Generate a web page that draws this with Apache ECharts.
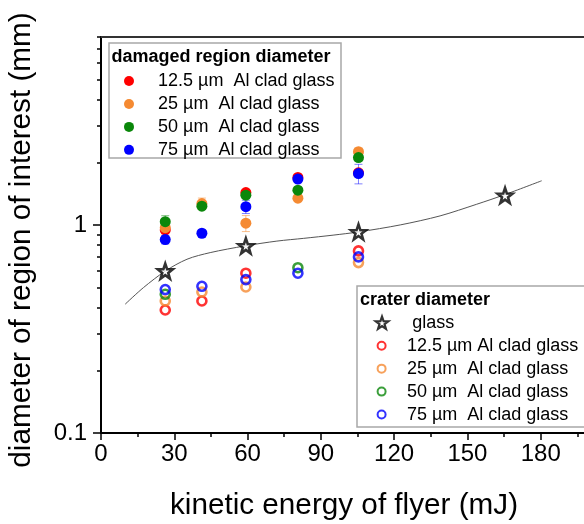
<!DOCTYPE html>
<html>
<head>
<meta charset="utf-8">
<script src="https://cdn.jsdelivr.net/npm/echarts@6/dist/echarts.min.js"></script>
<style>
  html, body { margin: 0; padding: 0; background: #fff; }
  #chart { width: 584px; height: 524px; }
</style>
</head>
<body>
<div id="chart"></div>
<script>
// Flyer kinetic energy (mJ) for each shot group
const energy = [26.3, 41.3, 59.3, 80.6, 105.4];
const energyGlass = [26.3, 59.3, 105.4, 165.4];

// Damaged region diameter (mm) and its spread
const damaged12_5 = [0.946, null, 1.43, 1.69, 1.78];
const damaged25   = [0.97, 1.266, 1.019, 1.344, 2.25];
const damaged50   = [1.037, 1.23, 1.39, 1.468, 2.107];
const damaged75   = [0.85, 0.912, 1.224, 1.66, 1.765];
const damaged12_5Err = [0.04, null, 0.05, 0.05, 0.06];
const damaged25Err   = [0.04, 0.08, 0.09, 0.04, 0.09];
const damaged50Err   = [0.07, 0.04, 0.05, 0.04, 0.07];
const damaged75Err   = [0.04, 0.03, 0.09, 0.04, 0.19];

// Crater diameter (mm)
const craterGlass   = [0.60, 0.793, 0.925, 1.385];
const crater12_5 = [0.39, 0.431, 0.586, null, 0.75];
const crater25   = [0.431, 0.476, 0.503, null, 0.659];
const crater50   = [0.464, null, null, 0.623, null];
const crater75   = [0.489, 0.507, 0.546, 0.586, 0.702];

// Trend line through the glass craters
const trendEnergy = [9.9, 17.4, 26.3, 35.2, 44.7, 59.0, 72.0, 83.0, 95.0, 105.4, 122.5, 138.8, 153.8, 164.7, 180.4];
const trendDiameter = [0.416, 0.50, 0.60, 0.684, 0.736, 0.793, 0.836, 0.862, 0.893, 0.925, 1.0, 1.105, 1.257, 1.39, 1.63];

// Axis ticks
const yMajorTicks = [0.1, 1];
const yMinorTicks = [0.2, 0.3, 0.4, 0.5, 0.6, 0.7, 0.8, 0.9, 2, 3, 4, 5, 6, 7, 8];

const RED = '#ff0000', ORANGE = '#f58a32', GREEN = '#0a870a', BLUE = '#0000ff';
const FONT = 'Liberation Sans, Arial, sans-serif';

const STAR = 'path://M0,-10 L2.35,-3.24 L9.51,-3.09 L3.8,1.24 L5.88,8.09 L0,4 L-5.88,8.09 L-3.8,1.24 L-9.51,-3.09 L-2.35,-3.24 Z';

const legendText = {
  'dmg12.5': '12.5 µm  Al clad glass',
  'dmg25': '25 µm  Al clad glass',
  'dmg50': '50 µm  Al clad glass',
  'dmg75': '75 µm  Al clad glass',
  'glass': ' glass',
  'cr12.5': '12.5 µm Al clad glass',
  'cr25': '25 µm  Al clad glass',
  'cr50': '50 µm  Al clad glass',
  'cr75': '75 µm  Al clad glass'
};

function pairs(xs, ys) {
  const out = [];
  xs.forEach((x, i) => { if (ys[i] != null) out.push([x, ys[i]]); });
  return out;
}
function triples(xs, ys, es) {
  const out = [];
  xs.forEach((x, i) => { if (ys[i] != null && es[i] != null) out.push([x, ys[i], es[i]]); });
  return out;
}

function filledSeries(name, values, color) {
  return {
    name, type: 'scatter', symbol: 'circle', symbolSize: 11, z: 3,
    itemStyle: { color, opacity: 1 },
    emphasis: { disabled: true },
    data: pairs(energy, values)
  };
}
function openSeries(name, values, color) {
  return {
    name, type: 'scatter', symbol: 'circle', symbolSize: 9, z: 3,
    itemStyle: { color: 'rgba(255,255,255,0)', borderColor: color, borderWidth: 2.6 },
    emphasis: { disabled: true },
    data: pairs(energy, values)
  };
}
function errorSeries(values, errs, color) {
  return {
    type: 'custom', z: 2, silent: true,
    data: triples(energy, values, errs),
    renderItem(params, api) {
      const x = api.value(0), y = api.value(1), e = api.value(2);
      const top = api.coord([x, y + e]);
      const bot = api.coord([x, y - e]);
      const hw = 4;
      const style = { stroke: color, lineWidth: 1 };
      return {
        type: 'group',
        children: [
          { type: 'line', shape: { x1: top[0], y1: top[1], x2: bot[0], y2: bot[1] }, style },
          { type: 'line', shape: { x1: top[0] - hw, y1: top[1], x2: top[0] + hw, y2: top[1] }, style },
          { type: 'line', shape: { x1: bot[0] - hw, y1: bot[1], x2: bot[0] + hw, y2: bot[1] }, style }
        ]
      };
    }
  };
}

const legendCommon = {
  orient: 'vertical', padding: 0, itemGap: 0.95, selectedMode: false,
  formatter: (name) => legendText[name],
  textStyle: { fontSize: 18, fontFamily: FONT, color: '#000', lineHeight: 22 }
};

const chart = echarts.init(document.getElementById('chart'), null, { renderer: 'canvas' });
chart.setOption({
  animation: false,
  backgroundColor: '#fff',
  grid: { left: 101, top: 37, width: 513, height: 396, containLabel: false, outerBoundsMode: 'none' },
  xAxis: [{
    type: 'value', min: 0, max: 210, interval: 30, position: 'bottom',
    axisLine: { onZero: false, lineStyle: { color: '#000', width: 2 } },
    axisTick: { length: 7, lineStyle: { color: '#000', width: 1.5 } },
    minorTick: { show: true, splitNumber: 2, length: 4, lineStyle: { color: '#000', width: 1.5 } },
    axisLabel: { fontSize: 24, fontFamily: FONT, color: '#000', margin: 9, showMaxLabel: false },
    splitLine: { show: false }
  }, {
    type: 'value', min: 0, max: 210, position: 'top',
    axisLine: { onZero: false, lineStyle: { color: '#333', width: 2 } },
    axisTick: { show: false }, axisLabel: { show: false }, splitLine: { show: false }
  }],
  yAxis: [{
    type: 'log', logBase: 10, min: 0.1, max: 8, position: 'left',
    axisLine: { show: true, onZero: false, lineStyle: { color: '#000', width: 2 } },
    axisTick: { customValues: yMajorTicks, length: 8, lineStyle: { color: '#000', width: 1.5 } },
    axisLabel: { customValues: yMajorTicks, fontSize: 24, fontFamily: FONT, color: '#000', margin: 14,
      formatter: (v) => String(+v.toPrecision(3)) },
    splitLine: { show: false }
  }, {
    type: 'log', logBase: 10, min: 0.1, max: 8, position: 'left', offset: 0,
    axisLine: { show: false },
    axisTick: { customValues: yMinorTicks, length: 4, lineStyle: { color: '#000', width: 1.5 } },
    axisLabel: { show: false },
    splitLine: { show: false }
  }],
  legend: [
    Object.assign({}, legendCommon, {
      left: 124, top: 70, itemWidth: 48, itemHeight: 10,
      data: ['dmg12.5', 'dmg25', 'dmg50', 'dmg75']
    }),
    Object.assign({}, legendCommon, {
      left: 374.6, top: 311.7, itemWidth: 40.6, itemHeight: 12,
      data: [{ name: 'glass', icon: STAR, itemStyle: { color: '#fff', borderColor: '#000', borderWidth: 2.2 } }]
    }),
    Object.assign({}, legendCommon, {
      left: 376.6, top: 334.7, itemWidth: 40.6, itemHeight: 8,
      data: [
        { name: 'cr12.5', itemStyle: { color: 'rgba(255,255,255,0)', borderColor: RED, borderWidth: 2 } },
        { name: 'cr25', itemStyle: { color: 'rgba(255,255,255,0)', borderColor: ORANGE, borderWidth: 2 } },
        { name: 'cr50', itemStyle: { color: 'rgba(255,255,255,0)', borderColor: GREEN, borderWidth: 2 } },
        { name: 'cr75', itemStyle: { color: 'rgba(255,255,255,0)', borderColor: BLUE, borderWidth: 2 } }
      ]
    })
  ],
  graphic: [
    { type: 'rect', z: 1, shape: { x: 109, y: 43, width: 232, height: 115 },
      style: { fill: '#fff', stroke: '#a8a8a8', lineWidth: 1.5 } },
    { type: 'text', z: 1, x: 111.5, y: 57,
      style: { text: 'damaged region diameter', font: 'bold 18px ' + FONT, fill: '#000', verticalAlign: 'middle', align: 'left' } },
    { type: 'rect', z: 1, shape: { x: 357, y: 286, width: 260, height: 141 },
      style: { fill: '#fff', stroke: '#a8a8a8', lineWidth: 1.5 } },
    { type: 'text', z: 1, x: 360, y: 300,
      style: { text: 'crater diameter', font: 'bold 18px ' + FONT, fill: '#000', verticalAlign: 'middle', align: 'left' } },
    // axis titles
    { type: 'text', z: 1, x: 344, y: 506,
      style: { text: 'kinetic energy of flyer (mJ)', font: '29.7px ' + FONT, fill: '#000', verticalAlign: 'middle', align: 'center' } },
    { type: 'text', z: 1, x: 22, y: 240, rotation: Math.PI / 2,
      style: { text: 'diameter of region of interest (mm)', font: '29.7px ' + FONT, fill: '#000', verticalAlign: 'middle', align: 'center' } }
  ],
  series: [
    {
      name: 'trend', type: 'line', smooth: 0.3, showSymbol: false, z: 1, silent: true,
      lineStyle: { color: '#555', width: 1 },
      data: pairs(trendEnergy, trendDiameter)
    },
    errorSeries(damaged12_5, damaged12_5Err, 'rgba(255,0,0,0.55)'),
    errorSeries(damaged25, damaged25Err, 'rgba(245,138,50,0.55)'),
    errorSeries(damaged50, damaged50Err, 'rgba(10,135,10,0.55)'),
    errorSeries(damaged75, damaged75Err, 'rgba(0,0,255,0.5)'),
    filledSeries('dmg12.5', damaged12_5, RED),
    filledSeries('dmg25', damaged25, ORANGE),
    filledSeries('dmg50', damaged50, GREEN),
    filledSeries('dmg75', damaged75, BLUE),
    openSeries('cr12.5', crater12_5, RED),
    openSeries('cr25', crater25, ORANGE),
    openSeries('cr50', crater50, GREEN),
    openSeries('cr75', crater75, BLUE),
    {
      name: 'glass', type: 'scatter', symbol: STAR, symbolSize: 15, z: 4,
      itemStyle: { color: '#fff', borderColor: '#000', borderWidth: 2.6 },
      emphasis: { disabled: true },
      data: pairs(energyGlass, craterGlass)
    }
  ]
});
</script>
</body>
</html>
